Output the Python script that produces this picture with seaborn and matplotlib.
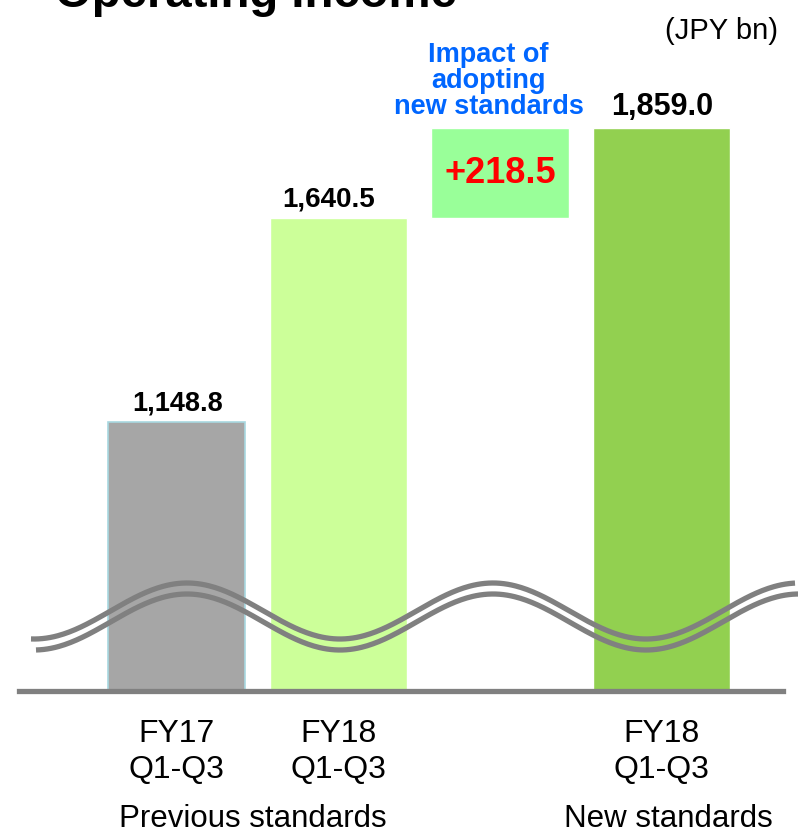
import numpy as np
import pandas as pd
import matplotlib
matplotlib.use("Agg")
import matplotlib.pyplot as plt
import seaborn as sns

# ---- data ----
keys = ["FY17_prev", "FY18_prev", "impact", "FY18_new"]
values = [1148.8, 1640.5, 0.0, 1859.0]
value_labels = ["1,148.8", "1,640.5", "", "1,859.0"]
impact_base = 1640.5
impact_value = 218.5
impact_label = "+218.5"
tick_labels = ["FY17\nQ1-Q3", "FY18\nQ1-Q3", "FY18\nQ1-Q3"]
colors = ["#a6a6a6", "#ccff99", "#99ff99", "#92d050"]

sns.set_theme(style="white")
plt.rcParams["font.family"] = ["Liberation Sans", "DejaVu Sans"]

W, H = 798, 836
fig = plt.figure(figsize=(W / 100, H / 100), dpi=100)
ax = fig.add_axes([19 / W, (H - 691) / H, 764 / W, (691 - 28) / H])

df = pd.DataFrame({"key": keys, "value": values})
sns.barplot(data=df, x="key", y="value", hue="key", order=keys,
            palette=dict(zip(keys, colors)), width=0.85, legend=False,
            ax=ax, saturation=1)

# light blue edge on first bar
ax.patches[0].set_edgecolor("#a8d8e0")
ax.patches[0].set_linewidth(1.2)

# floating impact box
ax.bar(2, impact_value, bottom=impact_base, width=0.85, color=colors[2], zorder=2)
ax.text(2, impact_base + impact_value / 2, impact_label, ha="center", va="center",
        color="#ff0000", fontsize=26, fontweight="bold")

ax.set_ylim(500, 2100)
ax.set_xlim(-0.974, 3.75)

# value labels
sizes = [19.5, 20, 0, 22]
dx = [1, -7, 0, 0]
for i, (v, lab) in enumerate(zip(values, value_labels)):
    if lab:
        ax.annotate(lab, (i, v), xytext=(dx[i], 4), textcoords="offset points",
                    ha="center", va="bottom", fontsize=sizes[i],
                    fontweight="bold", color="black")

ax.text(1.93, 1972, "Impact of\nadopting\nnew standards", ha="center", va="center",
        color="#0066ff", fontsize=19.5, fontweight="bold", linespacing=1.02)

# axes styling
for s in ["top", "left", "right"]:
    ax.spines[s].set_visible(False)
ax.spines["bottom"].set_color("#808080")
ax.spines["bottom"].set_linewidth(3.8)
ax.set_yticks([])
ax.set_xticks([0, 1, 3])
ax.set_xticklabels(tick_labels, fontsize=23, linespacing=1.25)
ax.tick_params(axis="x", length=0, pad=20, colors="black")
ax.set_xlabel("")
ax.set_ylabel("")

# axis-break wave decoration (figure pixel coords)
def fx(x):
    return x / W

def fy(y):
    return 1 - y / H

xs = np.linspace(31, 795, 400)
ys = 611 - 28 * np.cos(2 * np.pi * (xs - 187) / 306)
fig.add_artist(plt.Line2D(fx(xs), fy(ys), color="#808080", lw=3.8,
                          solid_capstyle="butt", transform=fig.transFigure, zorder=5))
xs2 = np.linspace(36, 800, 400)
ys2 = 622 - 28 * np.cos(2 * np.pi * (xs2 - 187) / 306)
fig.add_artist(plt.Line2D(fx(xs2), fy(ys2), color="#808080", lw=3.8,
                          solid_capstyle="butt", transform=fig.transFigure, zorder=5))

# titles and notes
fig.text(fx(55), fy(7), "Operating Income", ha="left", va="baseline",
         fontsize=34, fontweight="bold", color="black")
fig.text(fx(778), fy(31), "(JPY bn)", ha="right", va="center", fontsize=21,
         color="black")
fig.text(fx(253), fy(819), "Previous standards", ha="center", va="center",
         fontsize=22.5, color="black")
fig.text(fx(668), fy(819), "New standards", ha="center", va="center",
         fontsize=22.5, color="black")

fig.savefig("out.png", dpi=100)
